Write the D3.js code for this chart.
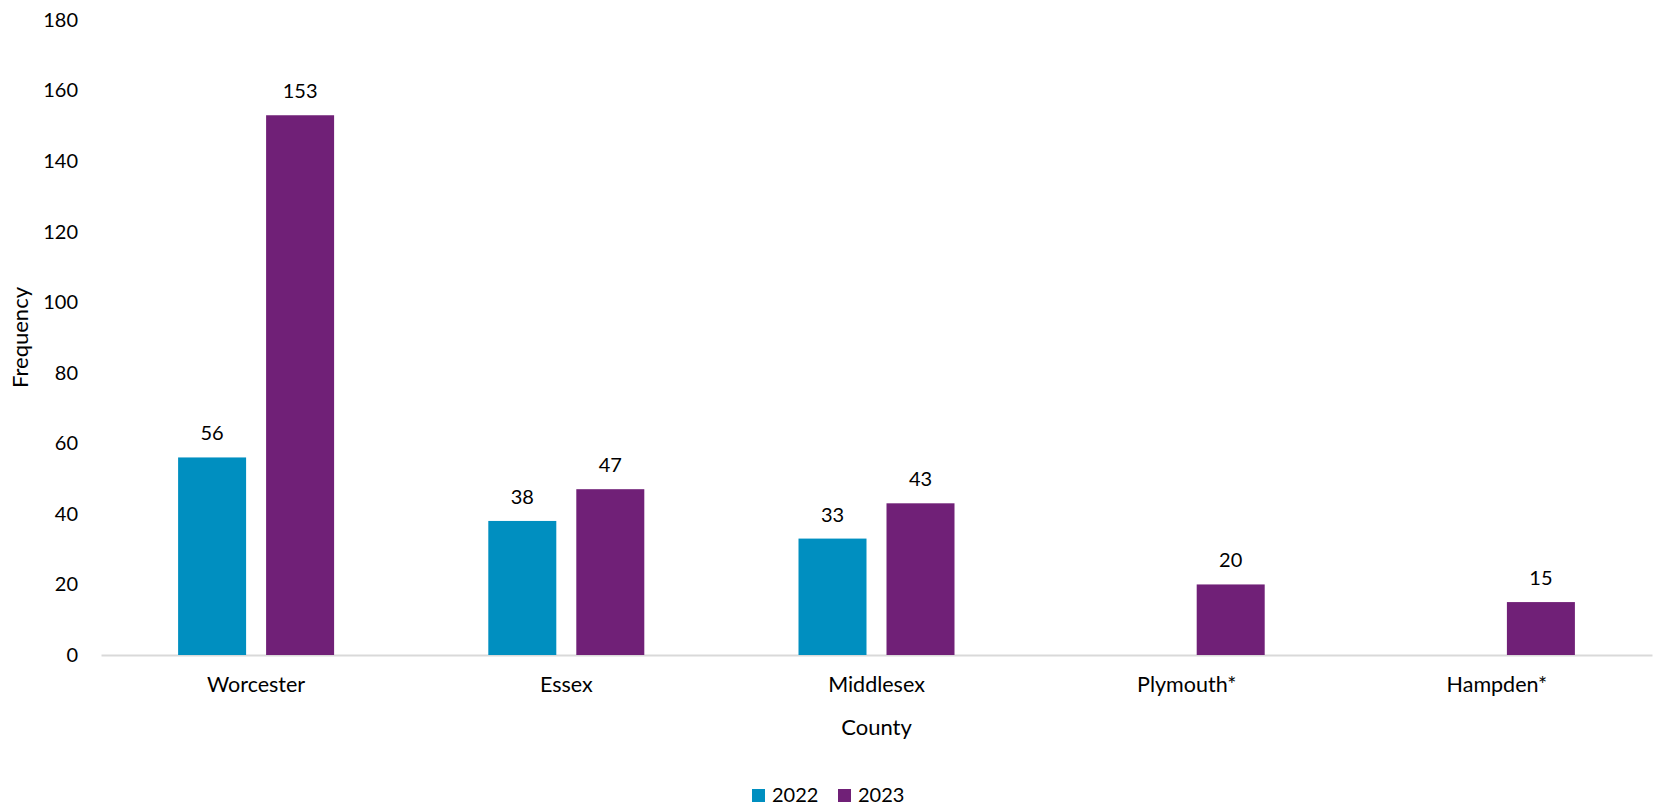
<!DOCTYPE html>
<html>
<head>
<meta charset="utf-8">
<script src="https://cdn.jsdelivr.net/npm/d3@7"></script>
<style>
  body { margin: 0; background: #fff; }
  text { font-family: Lato, "Open Sans", sans-serif; fill: #000; }
</style>
</head>
<body>
<div id="chart"></div>
<script>
// Data
const counties = ['Worcester', 'Essex', 'Middlesex', 'Plymouth*', 'Hampden*'];
const years = ['2022', '2023'];
const values2022 = [56, 38, 33, null, null];
const values2023 = [153, 47, 43, 20, 15];
const yTicks = [0, 20, 40, 60, 80, 100, 120, 140, 160, 180];

const colors = { '2022': '#008fc0', '2023': '#702077' };

// build rows for the bars
const rows = [];
counties.forEach((c, i) => {
    rows.push({ county: c, year: '2022', value: values2022[i] });
    rows.push({ county: c, year: '2023', value: values2023[i] });
});

const w = 1653;
const h = 806;
const padL = 101;
const padR = 1652;
const padT = 20;
const padB = 655;

const svg = d3.select('#chart')
    .append('svg')
    .attr('width', w)
    .attr('height', h)

// Scales
const xScale = d3.scaleBand()
    .domain(counties)
    .range([padL, padR])

const groupW = 156;
const xInner = d3.scaleBand()
    .domain(years)
    .range([-groupW / 2, groupW / 2])
    .paddingInner(20 / 88)

const yScale = d3.scaleLinear()
    .domain([0, 180])
    .range([padB, padT])

// Y axis (labels only)
const yAxis = d3.axisLeft(yScale)
    .tickValues(yTicks)
    .tickSize(0)
    .tickPadding(0)

svg.append('g')
    .attr('transform', `translate(78, 0)`)
    .call(yAxis)
    .call(g => g.select('.domain').remove())
    .selectAll('text')
    .style('font-size', '20px')
    .attr('fill', '#000')

// X axis
const xAxis = d3.axisBottom(xScale)
    .tickSize(0)
    .tickPadding(22)

const xg = svg.append('g')
    .attr('transform', `translate(0, ${padB})`)
    .call(xAxis)

xg.select('.domain')
    .attr('stroke', '#d9d9d9')
    .attr('stroke-width', 2)

xg.selectAll('text')
    .style('font-size', '21.5px')
    .attr('fill', '#000')

// Bars
const bars = rows.filter(d => d.value != null);

svg.selectAll('rect.bar')
    .data(bars)
    .enter()
    .append('rect')
    .attr('class', 'bar')
    .attr('x', d => xScale(d.county) + xScale.bandwidth() / 2 + xInner(d.year))
    .attr('y', d => yScale(d.value))
    .attr('width', xInner.bandwidth())
    .attr('height', d => padB - yScale(d.value))
    .attr('fill', d => colors[d.year])

// Data labels
svg.selectAll('text.label')
    .data(bars)
    .enter()
    .append('text')
    .attr('class', 'label')
    .attr('x', d => xScale(d.county) + xScale.bandwidth() / 2 + xInner(d.year) + xInner.bandwidth() / 2)
    .attr('y', d => yScale(d.value) - 17)
    .attr('text-anchor', 'middle')
    .style('font-size', '20px')
    .text(d => d.value)

// Axis titles
svg.append('text')
    .attr('transform', `translate(28, ${(padT + padB) / 2}) rotate(-90)`)
    .attr('text-anchor', 'middle')
    .style('font-size', '22px')
    .text('Frequency')

svg.append('text')
    .attr('x', (padL + padR) / 2)
    .attr('y', 735)
    .attr('text-anchor', 'middle')
    .style('font-size', '22px')
    .text('County')

// Legend
const legendX = [752, 838];
const legend = svg.selectAll('g.legend')
    .data(years)
    .enter()
    .append('g')
    .attr('class', 'legend')
    .attr('transform', (d, i) => `translate(${legendX[i]}, 789)`)

legend.append('rect')
    .attr('width', 13)
    .attr('height', 13)
    .attr('fill', d => colors[d])

legend.append('text')
    .attr('x', 20)
    .attr('y', 13)
    .style('font-size', '20px')
    .text(d => d)
</script>
</body>
</html>
